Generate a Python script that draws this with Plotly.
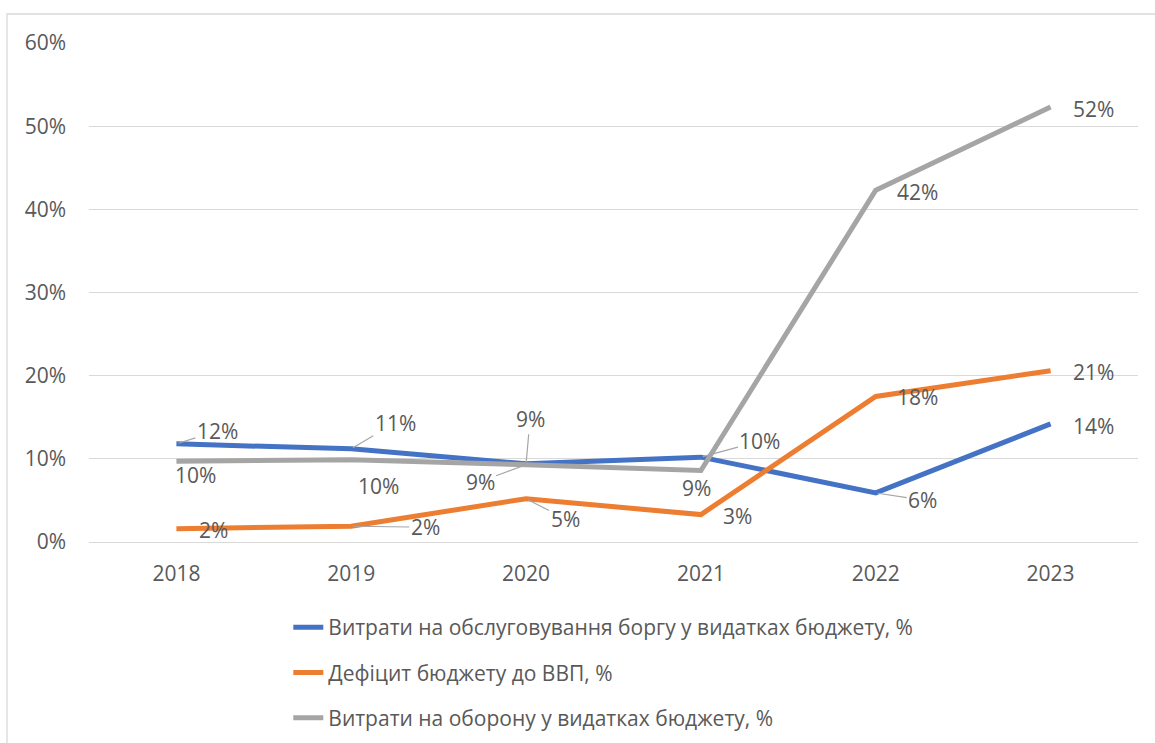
import plotly.graph_objects as go

years = ["2018", "2019", "2020", "2021", "2022", "2023"]

debt_service = [0.118, 0.112, 0.094, 0.102, 0.059, 0.142]
budget_deficit = [0.016, 0.019, 0.052, 0.033, 0.175, 0.206]
defense = [0.097, 0.099, 0.093, 0.086, 0.423, 0.523]

names = [
    "Витрати на обслуговування боргу у видатках бюджету, %",
    "Дефіцит бюджету до ВВП, %",
    "Витрати на оборону у видатках бюджету, %",
]
colors = ["#4472C4", "#ED7D31", "#A5A5A5"]
series = [debt_service, budget_deficit, defense]

# label offsets in px (dx right, dy down) and whether a leader line is drawn
label_pos = [
    [(41, -13, True), (44, -26, True), (4, -45, True), (59, -16, True), (47, 7, True), (43, 2, False)],
    [(37, 1, False), (74, 1, True), (39, 20, True), (37, 1, False), (42, 1, False), (43, 1, False)],
    [(19, 14, False), (27, 26, False), (-46, 17, True), (-4, 18, False), (42, 2, False), (43, 2, False)],
]

FONT = "Open Sans"
TXT = "#595959"
GRID = "#D9D9D9"
FS = 21

fig = go.Figure()
for i, (name, vals, col) in enumerate(zip(names, series, colors)):
    fig.add_trace(go.Scatter(
        x=years, y=vals, name=name, mode="lines",
        line=dict(color=col, width=5),
        legendgroup=f"g{i}",
        hoverinfo="skip",
    ))

annotations = []
for vals, offs in zip(series, label_pos):
    for idx, (v, (dx, dy, leader)) in enumerate(zip(vals, offs)):
        # category axes take the serial index of the category
        a = dict(
            x=idx, y=v, xref="x", yref="y",
            text=f"{v * 100:.0f}%",
            font=dict(family=FONT, size=FS, color=TXT),
        )
        if leader:
            a.update(showarrow=True, ax=dx, ay=dy, arrowhead=0,
                     arrowwidth=1.2, arrowcolor="#A6A6A6", standoff=2)
        else:
            a.update(showarrow=False, xshift=dx, yshift=-dy)
        annotations.append(a)

fig.update_layout(
    width=1155, height=743,
    margin=dict(l=89, r=17, t=43, b=201, autoexpand=False),
    paper_bgcolor="white", plot_bgcolor="white",
    font=dict(family=FONT, size=FS, color=TXT),
    annotations=annotations,
    showlegend=True,
    legend=dict(
        x=0.19, xref="paper", y=1 - 607 / 743, yref="container",
        xanchor="left", yanchor="top",
        orientation="v", tracegroupgap=15,
        font=dict(family=FONT, size=FS, color=TXT),
        bgcolor="rgba(0,0,0,0)",
    ),
    xaxis=dict(
        type="category", range=[-0.5, 5.5],
        showgrid=False, showline=False, zeroline=False,
        ticks="", ticklabelstandoff=17,
        tickfont=dict(family=FONT, size=FS, color=TXT),
    ),
    yaxis=dict(
        range=[0, 0.6], dtick=0.1, tickformat=".0%",
        showgrid=True, gridcolor=GRID, gridwidth=1.3,
        zeroline=True, zerolinecolor=GRID, zerolinewidth=1.3,
        showline=False, ticks="", ticklabelstandoff=22,
        tickfont=dict(family=FONT, size=FS, color=TXT),
    ),
    shapes=[dict(
        type="rect", xref="paper", yref="paper",
        x0=(7 - 89) / 1049, x1=(1170 - 89) / 1049,
        y0=(542 - 760) / 499, y1=(542 - 14) / 499,
        line=dict(color=GRID, width=1.3), fillcolor="rgba(0,0,0,0)",
        layer="below",
    )],
)

fig.write_html("out.html")
